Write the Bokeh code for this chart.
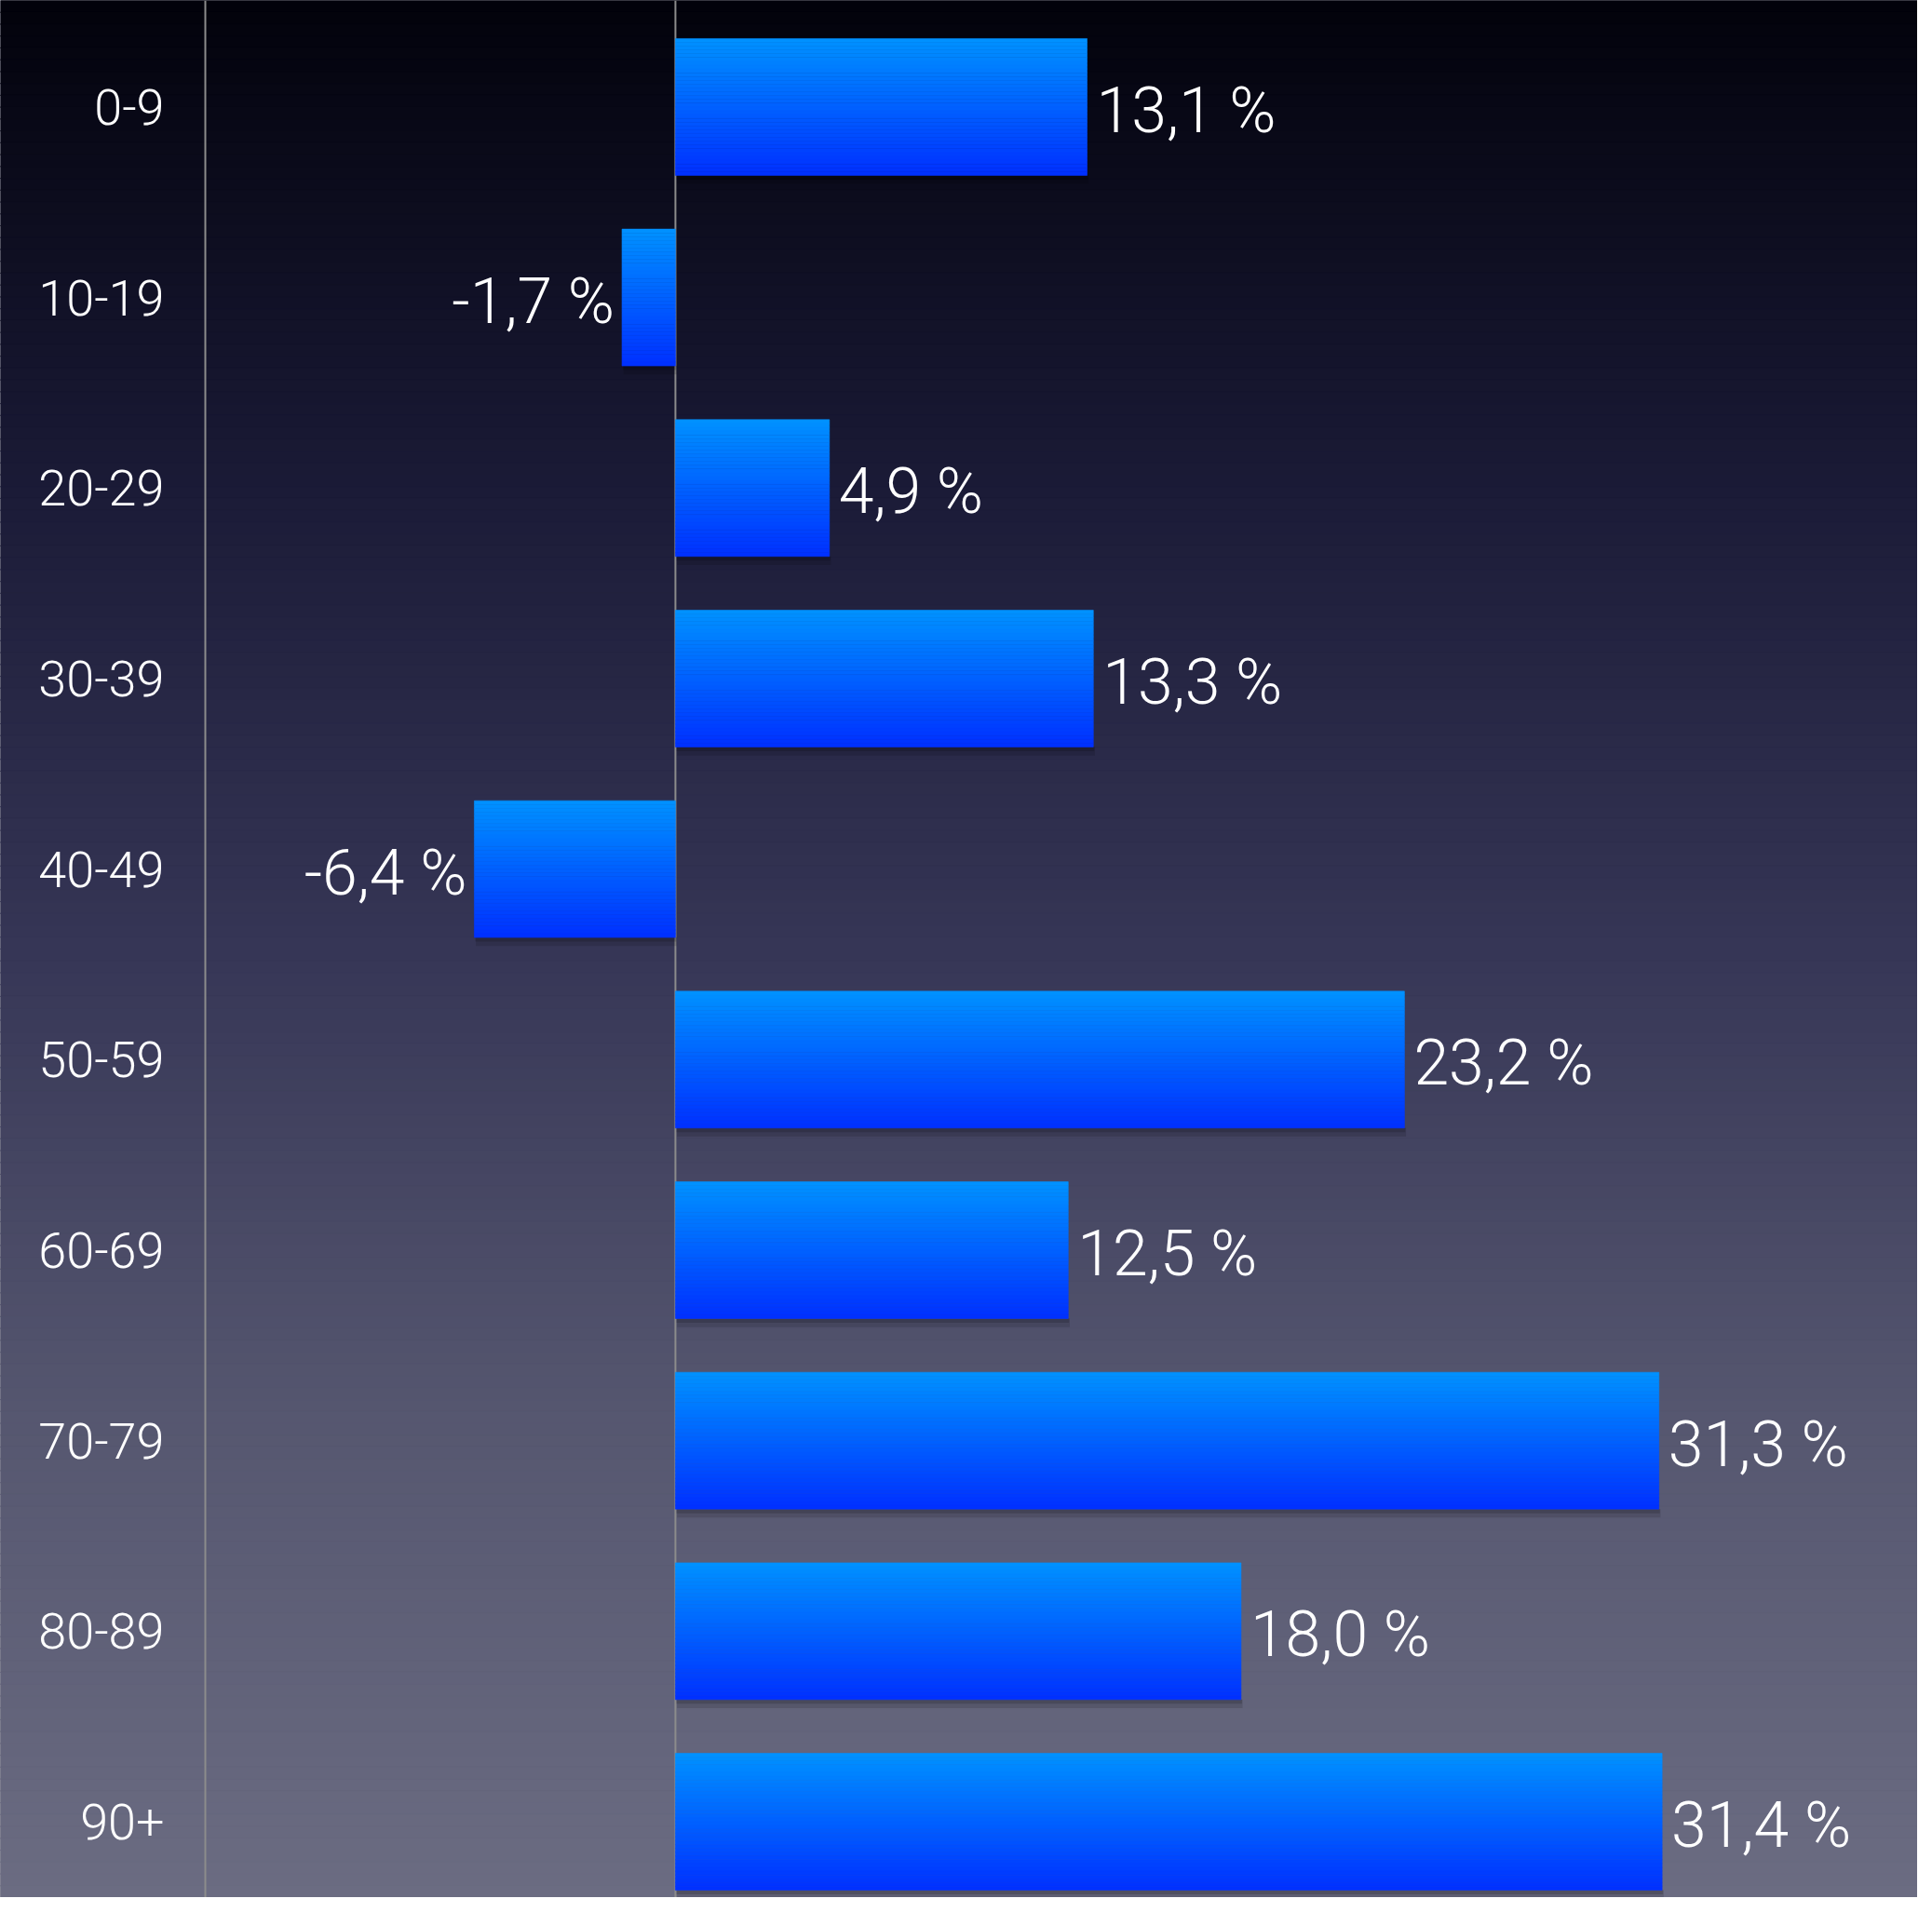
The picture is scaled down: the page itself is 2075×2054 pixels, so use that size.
import numpy as np
from bokeh.plotting import figure
from bokeh.models import Range1d, Span, LinearAxis, FixedTicker, ColumnDataSource
from bokeh.core.properties import value
from bokeh.embed import file_html
from bokeh.resources import INLINE

# ---- data ----
categories = ["0-9", "10-19", "20-29", "30-39", "40-49",
              "50-59", "60-69", "70-79", "80-89", "90+"]
values = [13.1, -1.7, 4.9, 13.3, -6.4, 23.2, 12.5, 31.3, 18.0, 31.4]

# ---- layout ----
W, H = 2059, 2038
X0, X1 = -21.48, 39.53
AXIS_AT = -14.96
Y_TOP, Y_BOT = -0.559, 9.398
BAR_H = 0.718
FONT = "Roboto Light, Roboto, Helvetica Neue, sans-serif"

p = figure(width=W, height=H, output_backend="svg", toolbar_location=None,
           x_range=Range1d(X0, X1), y_range=Range1d(Y_BOT, Y_TOP),
           x_axis_location=None, y_axis_location=None, min_border=0)
p.outline_line_color = None
p.xgrid.visible = False
p.ygrid.visible = False
p.background_fill_color = "#2a2a44"
p.border_fill_color = "#2a2a44"


def hex2rgb(h):
    h = h.lstrip("#")
    return np.array([int(h[i:i + 2], 16) for i in (0, 2, 4)], dtype=float)


def rgb2hex(c):
    return "#%02x%02x%02x" % tuple(int(round(v)) for v in c)


# background vertical gradient (style only)
stop_pos = np.array([0.0, 0.02, 0.25, 0.50, 0.74, 1.0])
stop_col = [hex2rgb(c) for c in ["#02020a", "#04040f", "#1a1a36", "#363656", "#55566f", "#6b6c82"]]
N_BG = 160
edges = np.linspace(Y_TOP, Y_BOT, N_BG + 1)
bg_cols = []
for k in range(N_BG):
    t = (k + 0.5) / N_BG
    c = np.array([np.interp(t, stop_pos, [s[j] for s in stop_col]) for j in range(3)])
    bg_cols.append(rgb2hex(c))
p.quad(left=X0 - 5, right=X1 + 5, top=edges[:-1], bottom=edges[1:],
       fill_color=bg_cols, line_color=bg_cols, line_width=1, level="image")

# zero line
p.add_layout(Span(location=0, dimension="height", line_color="#8c8c8c",
                  line_width=2, level="underlay"))

# category axis (left vertical line + labels)
ax = LinearAxis(fixed_location=AXIS_AT,
                ticker=FixedTicker(ticks=list(range(len(categories)))),
                major_label_overrides={i: c for i, c in enumerate(categories)},
                major_tick_line_color=None, minor_tick_line_color=None,
                axis_line_color="#8c8c8c", axis_line_width=2,
                major_label_standoff=38,
                major_label_text_font=FONT,
                major_label_text_font_size="54px",
                major_label_text_color="white")
p.add_layout(ax, "left")

# bars: drop shadow + vertical gradient slices
idx = np.arange(len(values))
vals = np.array(values)
left = np.minimum(vals, 0)
right = np.maximum(vals, 0)
p.quad(left=left + 0.05, right=right + 0.05, top=idx + BAR_H / 2,
       bottom=idx + BAR_H / 2 + 0.045, fill_color="black", fill_alpha=0.12,
       line_color=None)
p.quad(left=left + 0.03, right=right + 0.03, top=idx + BAR_H / 2,
       bottom=idx + BAR_H / 2 + 0.022, fill_color="black", fill_alpha=0.15,
       line_color=None)

top_c, bot_c = hex2rgb("#0092ff"), hex2rgb("#0030ff")
N_SL = 36
L, R, T, B, C = [], [], [], [], []
for i, v in enumerate(values):
    for k in range(N_SL):
        t = (k + 0.5) / N_SL
        L.append(min(v, 0)); R.append(max(v, 0))
        T.append(i - BAR_H / 2 + k * BAR_H / N_SL)
        B.append(i - BAR_H / 2 + (k + 1) * BAR_H / N_SL)
        C.append(rgb2hex(top_c + (bot_c - top_c) * t))
p.quad(left=L, right=R, top=T, bottom=B, fill_color=C, line_color=C, line_width=0.6)

# value labels
labels = [("%.1f" % v).replace(".", ",") + " %" for v in values]
pos = [i for i, v in enumerate(values) if v >= 0]
neg = [i for i, v in enumerate(values) if v < 0]
src_pos = ColumnDataSource(dict(x=[values[i] for i in pos], y=[i for i in pos],
                                t=[labels[i] for i in pos]))
src_neg = ColumnDataSource(dict(x=[values[i] for i in neg], y=[i for i in neg],
                                t=[labels[i] for i in neg]))
p.text(x="x", y="y", text="t", source=src_pos, x_offset=10, y_offset=4,
       text_align="left", text_baseline="middle", text_color="white",
       text_font=value(FONT), text_font_size="68px")
p.text(x="x", y="y", text="t", source=src_neg, x_offset=-8, y_offset=4,
       text_align="right", text_baseline="middle", text_color="white",
       text_font=value(FONT), text_font_size="68px")

open("out.html", "w").write(file_html(p, INLINE))
